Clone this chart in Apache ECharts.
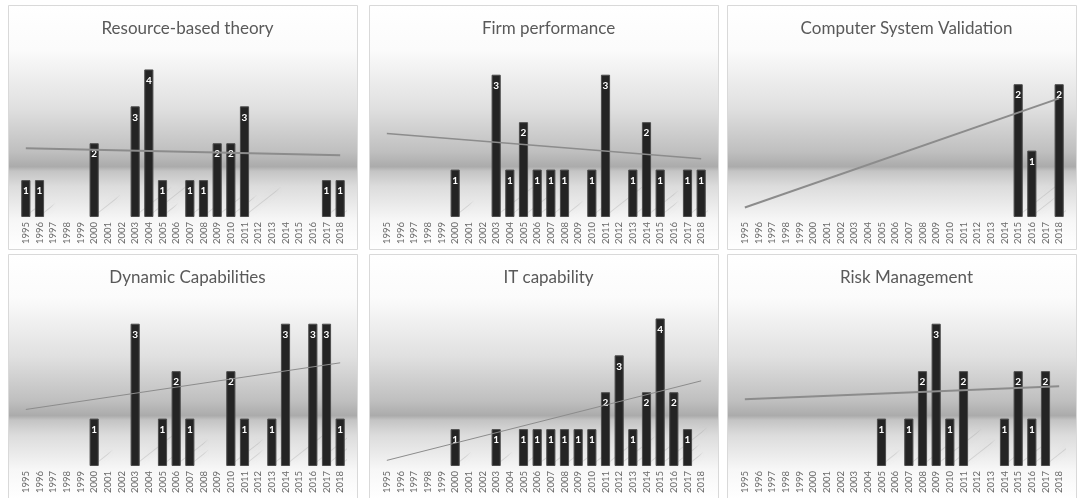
<!DOCTYPE html>
<html>
<head>
<meta charset="utf-8">
<script src="https://cdn.jsdelivr.net/npm/echarts@6/dist/echarts.min.js"></script>
<style>
  html, body { margin: 0; padding: 0; background: #ffffff; }
  #chart { width: 1078px; height: 498px; }
</style>
</head>
<body>
<div id="chart"></div>
<script>
// Publication years on every category axis
const years = ['1995','1996','1997','1998','1999','2000','2001','2002','2003','2004','2005','2006',
               '2007','2008','2009','2010','2011','2012','2013','2014','2015','2016','2017','2018'];

// Panel titles
const titles = ['Resource-based theory', 'Firm performance', 'Computer System Validation',
                'Dynamic Capabilities', 'IT capability', 'Risk Management'];

// Number of publications per year (null = no publication that year)
const resourceBased = [1,1,null,null,null,2,null,null,3,4,1,null,1,1,2,2,3,null,null,null,null,null,1,1];
const firmPerformance = [null,null,null,null,null,1,null,null,3,1,2,1,1,1,null,1,3,null,1,2,1,null,1,1];
const systemValidation = [null,null,null,null,null,null,null,null,null,null,null,null,null,null,null,null,null,null,null,null,2,1,null,2];
const dynamicCapabilities = [null,null,null,null,null,1,null,null,3,null,1,2,1,null,null,2,1,null,1,3,null,3,3,1];
const itCapability = [null,null,null,null,null,1,null,null,1,null,1,1,1,1,1,1,2,3,1,2,4,2,1,null];
const riskManagement = [null,null,null,null,null,null,null,null,null,null,1,null,1,2,3,1,2,null,null,1,2,1,2,null];

const panelData = [resourceBased, firmPerformance, systemValidation, dynamicCapabilities, itCapability, riskManagement];
const trendWidths = [2, 1.5, 2, 1, 1, 2];

// Least-squares linear trend over the years that have a value
function linearTrend(values) {
  const pts = [];
  values.forEach((v, i) => { if (v != null) pts.push([i, v]); });
  const n = pts.length;
  const mx = pts.reduce((s, p) => s + p[0], 0) / n;
  const my = pts.reduce((s, p) => s + p[1], 0) / n;
  let sxy = 0, sxx = 0;
  pts.forEach(p => { sxy += (p[0] - mx) * (p[1] - my); sxx += (p[0] - mx) * (p[0] - mx); });
  const slope = sxx ? sxy / sxx : 0;
  const last = values.length - 1;
  return [[0, my - slope * mx], [last, my + slope * (last - mx)]];
}

// Panel frames
const colLeft = [8, 369, 727];
const rowTop = [5, 254];
const panelW = 349, panelH = 244;

const chart = echarts.init(document.getElementById('chart'), null, { renderer: 'canvas' });

const grids = [], xAxes = [], yAxes = [], series = [], titleOpts = [], graphics = [];

panelData.forEach((values, k) => {
  const left = colLeft[k % 3];
  const top = rowTop[Math.floor(k / 3)];

  graphics.push({
    type: 'rect', z: -10, silent: true,
    shape: { x: left + 0.5, y: top + 0.5, width: panelW, height: panelH },
    style: {
      fill: new echarts.graphic.LinearGradient(0, 0, 0, 1, [
        { offset: 0, color: '#ffffff' },
        { offset: 0.18, color: '#fbfbfb' },
        { offset: 0.42, color: '#e0e0e0' },
        { offset: 0.6, color: '#bfbfbf' },
        { offset: 0.66, color: '#ababab' },
        { offset: 0.678, color: '#c4c4c4' },
        { offset: 0.74, color: '#dcdcdc' },
        { offset: 0.88, color: '#f7f7f7' },
        { offset: 1, color: '#ffffff' }
      ]),
      stroke: '#d9d9d9', lineWidth: 1
    }
  });

  titleOpts.push({
    text: titles[k],
    left: left + panelW / 2,
    top: top + 10,
    textAlign: 'center',
    textStyle: { fontFamily: 'Lato', fontSize: 17, fontWeight: 'normal', color: '#595959' }
  });

  grids.push({ left: left + 11, top: top + 46, width: panelW - 21, height: 166 });

  xAxes.push({
    type: 'category', gridIndex: k, data: years,
    axisLine: { show: false }, axisTick: { show: false },
    axisLabel: { rotate: 90, fontSize: 9.5, fontFamily: 'Lato', color: '#6a6a6a', margin: 5, interval: 0 }
  });

  yAxes.push({
    type: 'value', gridIndex: k, min: 0, max: v => v.max + 0.5,
    show: false, splitLine: { show: false }
  });

  // floor shadows cast by each bar
  series.push({
    type: 'custom', xAxisIndex: k, yAxisIndex: k, z: 1, silent: true, clip: true,
    data: values.map((v, i) => [i, v]).filter(d => d[1] != null),
    renderItem: (params, api) => {
      const base = api.coord([api.value(0), 0]);
      const tip = api.coord([api.value(0), api.value(1)]);
      const bw = api.size([1, 0])[0] * 0.67;
      const h = base[1] - tip[1];
      const xr = base[0] + bw / 2;
      const dx = 0.28 * h, dy = 0.22 * h;
      return {
        type: 'polygon',
        shape: { points: [[xr - 4, base[1] - 1], [xr + 1, base[1] - 6], [xr + 1 + dx, base[1] - 6 - dy], [xr - 4 + dx, base[1] - 1 - dy]] },
        style: { fill: 'rgba(150,150,150,0.3)', shadowBlur: 6, shadowColor: 'rgba(150,150,150,0.6)' }
      };
    }
  });

  series.push({
    type: 'bar', xAxisIndex: k, yAxisIndex: k, z: 2,
    data: values,
    barCategoryGap: '33%',
    itemStyle: { color: '#242424', borderColor: '#4d4d4d', borderWidth: 1 },
    label: {
      show: true, position: 'insideTop', distance: 6,
      color: '#ffffff', fontWeight: 'bold', fontSize: 10, fontFamily: 'Lato'
    }
  });

  series.push({
    type: 'line', xAxisIndex: k, yAxisIndex: k, z: 3, silent: true,
    data: linearTrend(values),
    symbol: 'none',
    lineStyle: { color: '#8c8c8c', width: trendWidths[k] }
  });
});

chart.setOption({
  animation: false,
  backgroundColor: '#ffffff',
  title: titleOpts,
  graphic: graphics,
  grid: grids,
  xAxis: xAxes,
  yAxis: yAxes,
  series: series
});
</script>
</body>
</html>
